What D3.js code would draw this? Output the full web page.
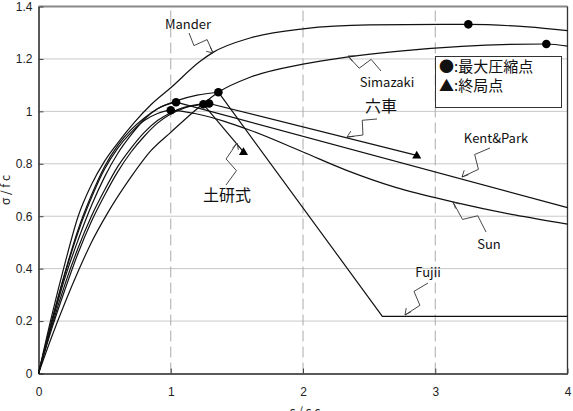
<!DOCTYPE html>
<html>
<head>
<meta charset="utf-8">
<script src="https://cdn.jsdelivr.net/npm/d3@7"></script>
<style>
body{margin:0;background:#fff;}
svg{display:block;font-family:"Noto Sans CJK JP","Noto Sans",sans-serif;}
</style>
</head>
<body>
<div id="chart"></div>
<script>
// 応力-ひずみ曲線 (ε/εc , σ/fc)
var mander=[[0,0],[0.1,0.22],[0.2,0.42],[0.3,0.6],[0.4,0.72],[0.5,0.81],[0.6,0.88],[0.72,0.955],[0.85,1.025],[1,1.09],[1.22,1.19],[1.32,1.225],[1.6,1.28],[2,1.315],[2.5,1.33],[3.25,1.332],[3.7,1.322],[4,1.308]];
var simazaki=[[0,0],[0.1,0.14],[0.2,0.27],[0.3,0.39],[0.4,0.5],[0.52,0.61],[0.7,0.75],[0.85,0.85],[1,0.92],[1.2,1.01],[1.36,1.073],[1.6,1.13],[2,1.18],[2.33,1.207],[2.73,1.23],[3.2,1.248],[3.84,1.257],[4,1.249]];
var sun=[[0,0],[0.1,0.2],[0.2,0.38],[0.3,0.54],[0.4,0.67],[0.5,0.78],[0.6,0.86],[0.7,0.92],[0.8,0.965],[0.9,0.992],[1,1.004],[1.2,0.99],[1.4,0.963],[1.6,0.928],[2,0.845],[2.33,0.775],[2.7,0.71],[3.14,0.654],[3.6,0.605],[4,0.57]];
var kentRise=[[0,0],[0.1,0.19],[0.2,0.365],[0.3,0.51],[0.4,0.64],[0.5,0.75],[0.6,0.84],[0.7,0.91],[0.8,0.97],[0.9,1.01],[1.04,1.035]];
var kentFall=[[1.04,1.035],[4,0.633]];
var mugurumaRise=[[0,0],[0.1,0.18],[0.2,0.34],[0.3,0.48],[0.4,0.6],[0.5,0.7],[0.6,0.79],[0.7,0.86],[0.8,0.92],[0.9,0.965],[1,0.995],[1.1,1.015],[1.2,1.026],[1.29,1.03]];
var mugurumaFall=[[1.29,1.03],[2.86,0.832]];
var pwriRise=[[0,0],[0.1,0.17],[0.2,0.32],[0.3,0.46],[0.4,0.58],[0.5,0.68],[0.6,0.77],[0.7,0.845],[0.8,0.905],[0.9,0.955],[1,0.99],[1.1,1.012],[1.247,1.027]];
var pwriFall=[[1.247,1.027],[1.55,0.845]];
var fujiiRise=[[0,0],[0.1,0.2],[0.2,0.385],[0.3,0.55],[0.4,0.68],[0.5,0.79],[0.6,0.87],[0.7,0.93],[0.8,0.975],[0.9,1.01],[1.04,1.04],[1.2,1.062],[1.36,1.073]];
var fujiiFall=[[1.36,1.073],[2.6,0.218],[4,0.218]];

var peakPts=[[3.25,1.332],[3.84,1.257],[1.04,1.035],[1,1.004],[1.247,1.027],[1.29,1.03],[1.36,1.073]];
var ultPts=[[1.55,0.845],[2.86,0.832]];

var xTicks=[0,1,2,3,4];
var yTicks=[0,0.2,0.4,0.6,0.8,1,1.2,1.4];
var yTickLabels=["0","0.2","0.4","0.6","0.8","1","1.2","1.4"];
var legendLabels=["●:最大圧縮点","▲:終局点"];

var W=573,H=411;
var svg=d3.select("#chart").append("svg").attr("width",W).attr("height",H);

var x=d3.scaleLinear().domain([0,4]).range([38.5,567.5]);
var y=d3.scaleLinear().domain([0,1.4]).range([373.5,6.5]);

// grid
svg.append("g").selectAll("line").data(yTicks.filter(function(d){return d>0&&d<1.4;}))
	.enter().append("line")
	.attr("x1",x(0)).attr("x2",x(4))
	.attr("y1",function(d){return y(d);}).attr("y2",function(d){return y(d);})
	.attr("stroke","#c8c8c8").attr("stroke-width",1);
svg.append("g").selectAll("line").data(xTicks.filter(function(d){return d>0&&d<4;}))
	.enter().append("line")
	.attr("x1",function(d){return x(d);}).attr("x2",function(d){return x(d);})
	.attr("y1",y(0)).attr("y2",y(1.4))
	.attr("stroke","#aaa").attr("stroke-width",1).attr("stroke-dasharray","11,5");

// frame
svg.append("line").attr("x1",x(0)).attr("x2",x(4)).attr("y1",y(1.4)).attr("y2",y(1.4))
	.attr("stroke","#888").attr("stroke-width",2);
svg.append("line").attr("x1",x(4)).attr("x2",x(4)).attr("y1",y(1.4)).attr("y2",y(0))
	.attr("stroke","#333").attr("stroke-width",1.3);

// axes
var yAxis=d3.axisLeft(y).tickValues(yTicks).tickFormat(function(d,i){return yTickLabels[i];})
	.tickSizeInner(-5).tickSizeOuter(0).tickPadding(6);
var xAxis=d3.axisBottom(x).tickValues(xTicks).tickFormat(d3.format("d"))
	.tickSizeInner(-5).tickSizeOuter(0).tickPadding(14);
var gy=svg.append("g").attr("transform","translate("+x(0)+",0)").call(yAxis);
var gx=svg.append("g").attr("transform","translate(0,"+y(0)+")").call(xAxis);
[gx,gy].forEach(function(g){
	g.select(".domain").attr("stroke","#222").attr("stroke-width",1.5);
	g.selectAll(".tick line").attr("stroke","#444");
	g.selectAll("text").attr("font-size",12).attr("fill","#222")
		.attr("font-family","'Liberation Sans','Noto Sans',sans-serif");
});

svg.append("text").attr("transform","translate(10,190) rotate(-90)")
	.attr("text-anchor","middle").attr("font-size",12).attr("fill","#222").text("σ / f c");
svg.append("text").attr("x",305).attr("y",416)
	.attr("text-anchor","middle").attr("font-size",12).attr("fill","#222").text("ε / ε c");

// curves
var smooth=d3.line().x(function(d){return x(d[0]);}).y(function(d){return y(d[1]);}).curve(d3.curveMonotoneX);
var straight=d3.line().x(function(d){return x(d[0]);}).y(function(d){return y(d[1]);});
var lines=svg.append("g").attr("fill","none").attr("stroke","#111").attr("stroke-width",1.2);
[mander,simazaki,sun,kentRise,mugurumaRise,pwriRise,fujiiRise].forEach(function(s){
	lines.append("path").attr("d",smooth(s));
});
[kentFall,mugurumaFall,pwriFall,fujiiFall].forEach(function(s){
	lines.append("path").attr("d",straight(s));
});

// markers
svg.append("g").selectAll("circle").data(peakPts).enter().append("circle")
	.attr("cx",function(d){return x(d[0]);}).attr("cy",function(d){return y(d[1]);})
	.attr("r",4.3).attr("fill","#000");
svg.append("g").selectAll("path").data(ultPts).enter().append("path")
	.attr("d",d3.symbol().type(d3.symbolTriangle).size(36))
	.attr("transform",function(d){return "translate("+x(d[0])+","+(y(d[1])+0.5)+")";})
	.attr("fill","#000");

// labels with zigzag leaders
var notes=[
	{t:"Mander",lx:188,ly:29,fs:13,s:[189,33],e:[213,53]},
	{t:"Simazaki",lx:387,ly:87,fs:13,s:[381,71],e:[348,56]},
	{t:"六車",lx:381,ly:112,fs:16,s:[377,119],e:[347,137]},
	{t:"Kent&Park",lx:496,ly:143,fs:13,s:[490,148],e:[462,177]},
	{t:"Sun",lx:489,ly:249,fs:13,s:[486,232],e:[453,202]},
	{t:"Fujii",lx:428,ly:277,fs:13,s:[428,283],e:[405,315]},
	{t:"土研式",lx:227,ly:201,fs:16,s:[226,185],e:[237,143]}
];
function leader(s,e){
	var dx=e[0]-s[0],dy=e[1]-s[1],L=Math.sqrt(dx*dx+dy*dy);
	var ux=dx/L,uy=dy/L,nx=-uy,ny=ux,w=6.5;
	var a=[s[0]+0.38*dx+w*nx,s[1]+0.38*dy+w*ny];
	var b=[s[0]+0.58*dx-w*nx,s[1]+0.58*dy-w*ny];
	var p="M"+s+"L"+a+"L"+b+"L"+e;
	var h=7,ang=0.45;
	var bx=-ux,by=-uy;
	var h1=[e[0]+h*(bx*Math.cos(ang)-by*Math.sin(ang)),e[1]+h*(bx*Math.sin(ang)+by*Math.cos(ang))];
	var h2=[e[0]+h*(bx*Math.cos(-ang)-by*Math.sin(-ang)),e[1]+h*(bx*Math.sin(-ang)+by*Math.cos(-ang))];
	return p+"M"+h1+"L"+e+"L"+h2;
}
var ng=svg.append("g");
notes.forEach(function(n){
	ng.append("path").attr("d",leader(n.s,n.e)).attr("fill","none").attr("stroke","#333").attr("stroke-width",0.9);
	ng.append("text").attr("x",n.lx).attr("y",n.ly).attr("text-anchor","middle")
		.attr("font-size",n.fs).attr("fill","#111").text(n.t);
});

// legend
svg.append("rect").attr("x",435.5).attr("y",56.5).attr("width",126).attr("height",51)
	.attr("fill","#fff").attr("stroke","#333").attr("stroke-width",1);
svg.append("g").selectAll("text").data(legendLabels).enter().append("text")
	.attr("x",439).attr("y",function(d,i){return 72+i*19;})
	.attr("font-size",15).attr("fill","#111").text(function(d){return d;});
</script>
</body>
</html>
